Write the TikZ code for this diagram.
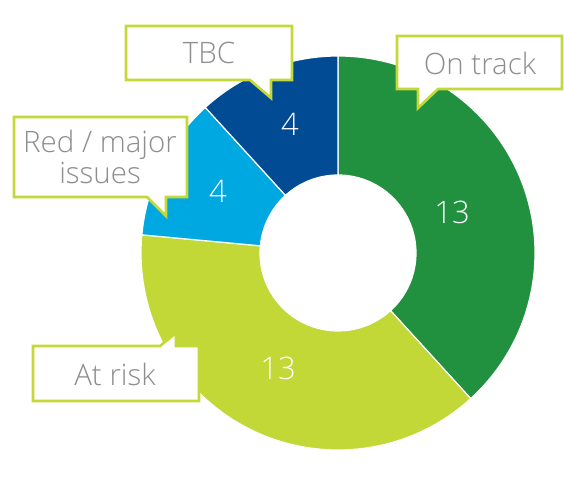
\documentclass[tikz,border=0pt]{standalone}
\usepackage{fontspec}
\setmainfont{Open Sans Light}
\definecolor{ontrack}{HTML}{21913F}
\definecolor{atrisk}{HTML}{C1D837}
\definecolor{redissue}{HTML}{00A8E1}
\definecolor{tbcblue}{HTML}{004B93}
\definecolor{boxline}{HTML}{C4D838}
\definecolor{labelgrey}{HTML}{8E8E90}

\begin{document}
\begin{tikzpicture}[x=1pt, y=1pt,
    calloutbox/.style={fill=white, draw=boxline, line width=2.6pt},
    boxtext/.style={text=labelgrey, font=\fontsize{29.5}{31}\selectfont, align=center},
    segnum/.style={text=white, font=\fontsize{31}{36}\selectfont}]
        \useasboundingbox (0,0) rectangle (564,484);
        \foreach \a/\b/\c in {90/-47.65/ontrack, -47.65/-185.29/atrisk, -185.29/-227.65/redissue, -227.65/-270/tbcblue} {
            \fill[\c, draw=white, line width=1.2pt, shift={(338,231)}] (\a:197) arc[start angle=\a, end angle=\b, radius=197] -- (\b:78) arc[start angle=\b, end angle=\a, radius=78] -- cycle;
        }
        \node[segnum] (n-ontrack) at (452,272) {13};
        \node[segnum] (n-atrisk) at (278,116) {13};
        \node[segnum] (n-red) at (218,293) {4};
        \node[segnum] (n-tbc) at (290,360) {4};
        \draw[calloutbox] (126,458) -- (292,458) -- (292,404) -- (271,404) -- (271,386) -- (250,404) -- (126,404) -- cycle;
        \draw[calloutbox] (397,448) -- (562,448) -- (562,395) -- (438,395) -- (418,376) -- (418,395) -- (397,395) -- cycle;
        \draw[calloutbox] (14,367) -- (187,367) -- (187,287) -- (166,287) -- (166,268) -- (147,287) -- (14,287) -- cycle;
        \draw[calloutbox] (33,138) -- (160,138) -- (176,151) -- (176,138) -- (199,138) -- (199,83) -- (33,83) -- cycle;
        \node[boxtext] (l-tbc) at (209,431) {TBC};
        \node[boxtext] (l-ontrack) at (480,421) {On track};
        \node[boxtext] (l-red) at (100,327) {Red / major\\issues};
        \node[boxtext] (l-atrisk) at (115,110) {At risk};
    \end{tikzpicture}
\end{document}
